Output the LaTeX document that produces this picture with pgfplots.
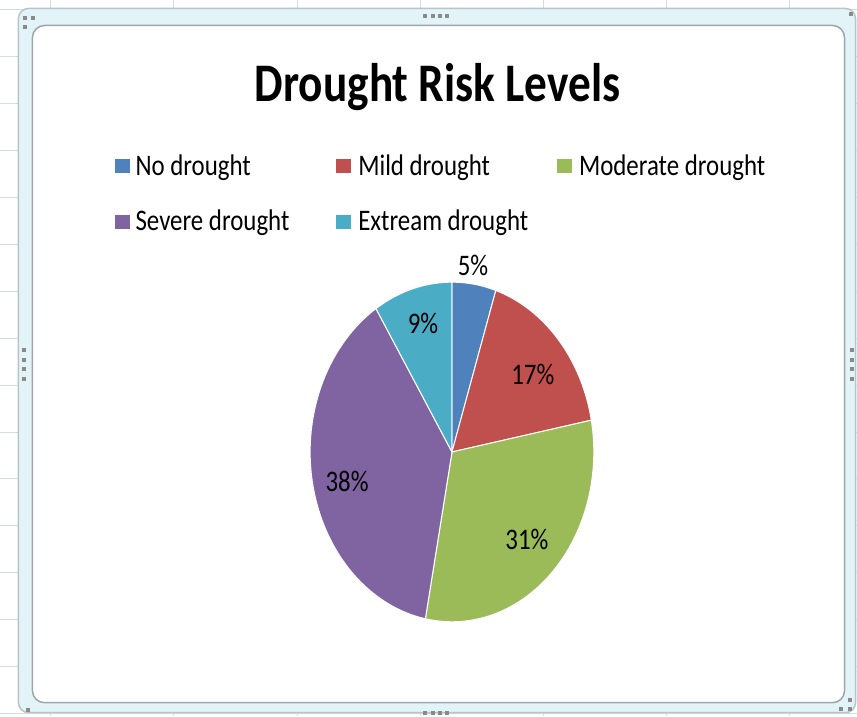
\documentclass[border=0pt]{standalone}
\usepackage{fontspec}
\setmainfont{Carlito}
\usepackage{pgfplots}
\usepackage{pgfplotstable}
\pgfplotsset{compat=1.18}

% Office 2007 palette
\definecolor{slice0}{HTML}{4F81BD}
\definecolor{slice1}{HTML}{C0504D}
\definecolor{slice2}{HTML}{9BBB59}
\definecolor{slice3}{HTML}{8064A2}
\definecolor{slice4}{HTML}{4BACC6}
\definecolor{band}{HTML}{E2F4F8}
\definecolor{bandline}{HTML}{B9C4C8}
\definecolor{sheetgrid}{HTML}{D3DEE4}
\definecolor{handle}{HTML}{8A8A8A}

% share of each risk level (percent)
\pgfplotstableread{
level value
0 5
1 17
2 31
3 38
4 9
}\droughtdata

\newcommand{\lbl}[1]{\fontsize{25}{30}\selectfont\scalebox{1}[1.2]{#1}}

\begin{document}
\begin{tikzpicture}
\begin{axis}[
  width=857bp, height=716bp, scale only axis, hide axis,
  xmin=0, xmax=857, ymin=0, ymax=716, y dir=reverse, clip=false]

% worksheet behind the chart
\fill[white] (axis cs:0,0) rectangle (axis cs:857,716);
\pgfplotsinvokeforeach{50,173.5,297,420,544,667,790}{
  \draw[sheetgrid, line width=1bp] (axis cs:#1,0) -- (axis cs:#1,716);}
\pgfplotsinvokeforeach{9,56,103,150,197,244,291,338,385,432,479,526,573,620,667,714}{
  \draw[sheetgrid, line width=1bp] (axis cs:0,#1) -- (axis cs:857,#1);}

% chart frame
\filldraw[fill=band, draw=bandline, line width=1.5bp, rounded corners=10bp]
  (axis cs:18,8) rectangle (axis cs:856,713);
\filldraw[fill=white, draw=bandline!85!black, line width=1.5bp, rounded corners=12bp]
  (axis cs:32,25) rectangle (axis cs:845,703);

% sizing handles
\pgfplotsinvokeforeach{425,432.5,440,447.5}{
  \fill[handle] (axis cs:#1-2,14) rectangle (axis cs:#1+2,18);
  \fill[handle] (axis cs:#1-2,711) rectangle (axis cs:#1+2,715);}
\pgfplotsinvokeforeach{350,359.5,369,378.5}{
  \fill[handle] (axis cs:22,#1-2) rectangle (axis cs:26,#1+2);
  \fill[handle] (axis cs:850,#1-2) rectangle (axis cs:854,#1+2);}
\fill[handle] (axis cs:23,16) rectangle (axis cs:27,20);
\fill[handle] (axis cs:31,16) rectangle (axis cs:35,20);
\fill[handle] (axis cs:23,25) rectangle (axis cs:27,29);
\fill[handle] (axis cs:848,698) rectangle (axis cs:852,702);
\fill[handle] (axis cs:848,707) rectangle (axis cs:852,711);
\fill[handle] (axis cs:839,707) rectangle (axis cs:843,711);
\fill[handle] (axis cs:849,12) rectangle (axis cs:853,16);
\fill[handle] (axis cs:26,708) rectangle (axis cs:30,712);

% pie: clockwise from 12 o'clock
\def\angStart{90}
\pgfplotsforeachungrouped \i in {0,...,4}{%
  \pgfplotstablegetelem{\i}{value}\of\droughtdata
  \pgfmathsetmacro\angEnd{\angStart-3.6*\pgfplotsretval}%
  \edef\slicecmd{\noexpand\addplot[fill=slice\i, draw=white, line width=1bp,
      domain=\angEnd:\angStart, samples=90]
      ({452+142*cos(x)},{452-170*sin(x)}) -- (axis cs:452,452) -- cycle;}%
  \slicecmd
  \let\angStart\angEnd
}

% data labels
\node[anchor=base] at (axis cs:473,275) {\lbl{5\%}};
\node[anchor=base] at (axis cs:533,384) {\lbl{17\%}};
\node[anchor=base] at (axis cs:527,550) {\lbl{31\%}};
\node[anchor=base] at (axis cs:347,492) {\lbl{38\%}};
\node[anchor=base] at (axis cs:423,333) {\lbl{9\%}};

% title
\node[anchor=base] at (axis cs:437.5,101)
  {\fontsize{45.5}{55}\selectfont\bfseries\scalebox{1}[1.2]{Drought Risk Levels}};

% legend
\fill[slice0] (axis cs:115,159) rectangle (axis cs:130,173);
\fill[slice1] (axis cs:336,159) rectangle (axis cs:351,173);
\fill[slice2] (axis cs:557,159) rectangle (axis cs:572,173);
\fill[slice3] (axis cs:115,215) rectangle (axis cs:130,229);
\fill[slice4] (axis cs:336,215) rectangle (axis cs:351,229);
\node[anchor=base west, inner sep=0pt] at (axis cs:135,175) {\lbl{No drought}};
\node[anchor=base west, inner sep=0pt] at (axis cs:358,175) {\lbl{Mild drought}};
\node[anchor=base west, inner sep=0pt] at (axis cs:579,175) {\lbl{Moderate drought}};
\node[anchor=base west, inner sep=0pt] at (axis cs:135,230) {\lbl{Severe drought}};
\node[anchor=base west, inner sep=0pt] at (axis cs:358,230) {\lbl{Extream drought}};
\end{axis}
\end{tikzpicture}
\end{document}
